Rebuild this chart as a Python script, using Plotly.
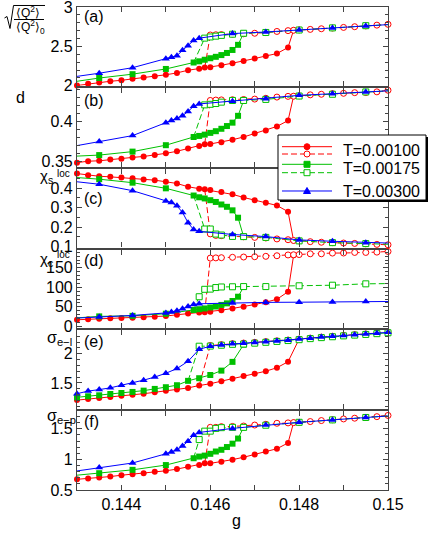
"""
Six stacked panels vs g for three temperatures (hysteresis branches).
"""
# Imports.
import plotly.graph_objects as go
from plotly.subplots import make_subplots

# Data.
temps = ['T=0.00100', 'T=0.00175', 'T=0.00300']

g_red = [0.143, 0.14325, 0.1435, 0.14375, 0.144, 0.14425, 0.1445, 0.14475, 0.145, 0.14525, 0.1455,
         0.14575, 0.145875, 0.146, 0.14625, 0.1465, 0.14675, 0.147, 0.14725, 0.1475, 0.14775, 0.147875]
g_red_dash = [0.145875, 0.146, 0.146125, 0.14625, 0.1465, 0.14675, 0.147, 0.14725, 0.1475, 0.14775,
              0.147875, 0.148, 0.14825, 0.1485, 0.14875, 0.149, 0.14925, 0.1495, 0.14975, 0.15]
g_green = [0.14275, 0.1435, 0.14425, 0.145, 0.145625, 0.14575, 0.145875, 0.146, 0.146125, 0.14625,
           0.146375, 0.1465, 0.146625, 0.14675]
g_green_dash = [0.145625, 0.145875, 0.146, 0.146125, 0.14625, 0.1465, 0.14675, 0.14725, 0.148, 0.14875,
                0.1495, 0.15025]
g_green_dash_df = [0.145625, 0.14575, 0.145875, 0.146, 0.146125, 0.14625, 0.1465, 0.14675, 0.14725, 0.148,
                   0.14875, 0.1495, 0.15025]
g_blue = [0.14275, 0.1435, 0.14425, 0.145, 0.145125, 0.14525, 0.145375, 0.1455, 0.145625, 0.14575,
          0.1465, 0.14725, 0.148, 0.14875, 0.1495, 0.15025]

# Panel (a).
a_red = [2.004, 2.025, 2.041, 2.058, 2.07, 2.09, 2.107, 2.123, 2.14, 2.164, 2.198, 2.218, 2.231, 2.237,
         2.261, 2.288, 2.315, 2.346, 2.379, 2.409, 2.487, 2.705]
a_red_dash = [2.231, 2.645, 2.648, 2.65, 2.655, 2.66, 2.667, 2.675, 2.69, 2.70, 2.705, 2.71, 2.716, 2.724,
              2.733, 2.741, 2.75, 2.76, 2.77, 2.78]
a_green = [2.037, 2.099, 2.148, 2.214, 2.296, 2.311, 2.331, 2.35, 2.368, 2.39, 2.417, 2.455, 2.52, 2.667]
a_green_dash = [2.296, 2.605, 2.62, 2.63, 2.64, 2.655, 2.667, 2.677, 2.708, 2.735, 2.763, 2.785]
a_blue = [2.10, 2.16, 2.23, 2.342, 2.362, 2.383, 2.45, 2.51, 2.575, 2.605, 2.663, 2.683, 2.707, 2.733,
          2.76, 2.785]

# Panel (b).
b_red = [0.349, 0.3508, 0.3513, 0.3529, 0.3538, 0.3555, 0.3567, 0.3584, 0.3606, 0.3631, 0.3665, 0.3698,
         0.372, 0.3722, 0.3745, 0.3775, 0.3809, 0.3851, 0.3889, 0.394, 0.4013, 0.4316]
b_red_dash = [0.372, 0.4263, 0.4268, 0.427, 0.4272, 0.4275, 0.428, 0.429, 0.4305, 0.4314, 0.4316, 0.432,
              0.4333, 0.434, 0.4348, 0.4352, 0.436, 0.4362, 0.437, 0.439]
b_green = [0.3565, 0.3584, 0.3627, 0.3707, 0.3809, 0.3822, 0.3838, 0.386, 0.3881, 0.3911, 0.3945, 0.3987,
           0.4072, 0.4263]
b_green_dash = [0.3809, 0.4208, 0.4215, 0.4225, 0.4242, 0.4263, 0.4263, 0.4276, 0.4318, 0.434, 0.4369, 0.439]
b_blue = [0.3677, 0.3754, 0.3826, 0.3987, 0.4013, 0.4038, 0.4072, 0.4127, 0.4191, 0.422, 0.4254, 0.4284,
          0.4327, 0.4347, 0.4369, 0.439]

# Panel (c).
c_red = [0.4747, 0.466, 0.461, 0.458, 0.4544, 0.451, 0.444, 0.441, 0.4325, 0.424, 0.407, 0.397, 0.394,
         0.39, 0.38, 0.368, 0.352, 0.338, 0.325, 0.311, 0.279, 0.131]
c_red_dash = [0.394, 0.165, 0.157, 0.156, 0.153, 0.15, 0.147, 0.144, 0.139, 0.135, 0.131, 0.129, 0.125,
              0.122, 0.12, 0.118, 0.116, 0.114, 0.111, 0.109]
c_green = [0.4586, 0.446, 0.428, 0.399, 0.362, 0.353, 0.347, 0.338, 0.329, 0.316, 0.304, 0.286, 0.248, 0.151]
c_green_dash = [0.362, 0.19, 0.19, 0.164, 0.159, 0.152, 0.151, 0.147, 0.129, 0.12, 0.115, 0.11]
c_blue = [0.439, 0.42, 0.387, 0.334, 0.326, 0.309, 0.275, 0.222, 0.187, 0.178, 0.162, 0.151, 0.134, 0.127,
          0.12, 0.116]

# Panel (d).
d_red = [17, 18, 19.7, 20.6, 21.4, 22.3, 23.1, 24.8, 26.5, 29.8, 33, 35.5, 36, 37.5, 41.5, 46, 50.5, 56,
         62, 69.5, 88.7, 182]
d_red_dash = [36, 175, 175.5, 176, 177, 177.7, 178.5, 179.5, 181, 183, 183.5, 184, 186, 186, 187.8, 188,
              189.5, 189.5, 190.3, 192]
d_green = [20, 25.6, 27, 32.5, 42, 44, 46, 48.5, 51, 55, 59, 65, 76, 101]
d_green_dash = [42, 76, 95, 95.5, 99.5, 101, 101.5, 102, 102, 104, 105.5, 109, 110]
d_blue = [20, 24, 28, 34.5, 37, 40, 45, 51, 56, 58, 60, 61.5, 62, 62.5, 63.5, 64]

# Panel (e), finer sampling.
g_e = [0.143, 0.14325, 0.1435, 0.14375, 0.144, 0.14425, 0.1445, 0.14475, 0.145, 0.14525, 0.1455, 0.14575,
       0.146, 0.14625, 0.1465, 0.14675, 0.147, 0.14725, 0.1475, 0.14775, 0.148, 0.14825, 0.1485, 0.14875,
       0.149, 0.14925, 0.1495, 0.14975, 0.15]
e_red = [1.205, 1.222, 1.24, 1.258, 1.28, 1.298, 1.315, 1.339, 1.365, 1.385, 1.414, 1.455, 1.485, 1.53,
         1.57, 1.616, 1.656, 1.70, 1.76, 1.862, 2.25]
e_red_dash = [1.455, 2.14, 2.155, 2.172, 2.182, 2.194, 2.207, 2.22, 2.234, 2.25, 2.267, 2.284, 2.298,
              2.313, 2.326, 2.338, 2.351, 2.366]
e_green = [1.253, 1.27, 1.287, 1.31, 1.327, 1.345, 1.367, 1.397, 1.426, 1.46, 1.535, 1.58, 1.635, 1.71,
           1.86, 2.155]
e_green_dash = [1.535, 2.128, 2.13, 2.145, 2.16, 2.165, 2.18, 2.195, 2.21, 2.225, 2.24, 2.258, 2.275,
                2.29, 2.305, 2.318, 2.33, 2.343, 2.358]
e_blue = [1.315, 1.36, 1.385, 1.415, 1.46, 1.50, 1.547, 1.60, 1.665, 1.745, 1.87, 2.076, 2.128, 2.15,
          2.17, 2.18, 2.192, 2.205, 2.218, 2.232, 2.25, 2.265, 2.284, 2.297, 2.313, 2.325, 2.336, 2.35, 2.365]

# Panel (f).
f_red = [0.675, 0.687, 0.703, 0.72, 0.742, 0.758, 0.775, 0.797, 0.814, 0.842, 0.88, 0.908, 0.936, 0.936,
         0.964, 0.997, 1.036, 1.08, 1.13, 1.175, 1.27, 1.603]
f_red_dash = [0.936, 1.525, 1.525, 1.537, 1.54, 1.547, 1.563, 1.575, 1.592, 1.598, 1.603, 1.608, 1.62,
              1.636, 1.65, 1.663, 1.675, 1.687, 1.70, 1.72]
f_green = [0.725, 0.775, 0.83, 0.908, 1.02, 1.047, 1.063, 1.092, 1.13, 1.158, 1.203, 1.258, 1.342, 1.525]
f_green_dash = [1.02, 1.325, 1.463, 1.463, 1.508, 1.52, 1.525, 1.525, 1.56, 1.608, 1.647, 1.687, 1.725]
f_blue = [0.786, 0.87, 0.942, 1.092, 1.12, 1.158, 1.22, 1.297, 1.397, 1.442, 1.508, 1.563, 1.608, 1.647,
          1.687, 1.725]

# Axis settings per panel.
y_ranges = [[2.0, 3.0], [0.344, 0.442], [0.095, 0.5], [-5, 197], [1.05, 2.40], [0.5, 1.79]]
y_ticks = [[2, 2.5, 3], [0.35, 0.4], [0.1, 0.2, 0.3, 0.4], [0, 50, 100, 150], [1.5, 2], [0.5, 1, 1.5]]
y_minor = [0.1, 0.01, 0.05, 10, 0.1, 0.1]
x_ticks = [0.143, 0.144, 0.145, 0.146, 0.147, 0.148, 0.149, 0.15]
x_labels = ['', '0.144', '', '0.146', '', '0.148', '', '0.15']

RED, GREEN, BLUE = '#ff0000', '#00c000', '#0000ff'
FONT = 'Liberation Sans, Arial, sans-serif'
W, H = 436, 536
ML, MR, MT, MB = 77, 48, 7, 46


def px(x, y):
    """Pixel position -> paper coordinates."""
    return (x - ML) / (W - ML - MR), (H - MB - y) / (H - MT - MB)


def add_series(fig, row, g, vals, color, symbol, size, dashed=False, hide_first=False):
    """Add one branch as a line with markers."""
    n = len(vals)
    g = g[:n]
    opac = [1 if 0.143 - 1e-9 <= x <= 0.15 + 1e-9 else 0 for x in g]
    if hide_first:
        opac[0] = 0
    if dashed:
        marker = dict(symbol=symbol, size=size, color='white', opacity=opac, line=dict(color=color, width=1))
    else:
        marker = dict(symbol=symbol, size=size, color=color, opacity=opac, line=dict(width=0))
    fig.add_trace(go.Scatter(x=g, y=vals, mode='lines+markers', cliponaxis=False, showlegend=False,
                             line=dict(color=color, width=1, dash='6px,3px' if dashed else 'solid'),
                             marker=marker), row=row, col=1)


# Create figure.
fig = make_subplots(rows=6, cols=1, shared_xaxes=True, vertical_spacing=2 / 483)

panels = [(a_red, a_red_dash, a_green, a_green_dash, a_blue),
          (b_red, b_red_dash, b_green, b_green_dash, b_blue),
          (c_red, c_red_dash, c_green, c_green_dash, c_blue),
          (d_red, d_red_dash, d_green, d_green_dash, d_blue)]
for i, (r, rd, gr, gd, bl) in enumerate(panels):
    add_series(fig, i + 1, g_red, r, RED, 'circle', 6)
    add_series(fig, i + 1, g_red_dash, rd, RED, 'circle', 6, dashed=True, hide_first=True)
    add_series(fig, i + 1, g_green, gr, GREEN, 'square', 6)
    add_series(fig, i + 1, g_green_dash_df if i == 3 else g_green_dash, gd, GREEN, 'square', 6,
               dashed=True, hide_first=True)
    add_series(fig, i + 1, g_blue, bl, BLUE, 'triangle-up', 7)

# Panel (e).
add_series(fig, 5, g_e, e_red, RED, 'circle', 6)
add_series(fig, 5, g_e[11:], e_red_dash, RED, 'circle', 6, dashed=True, hide_first=True)
add_series(fig, 5, g_e, e_green, GREEN, 'square', 6)
add_series(fig, 5, g_e[10:], e_green_dash, GREEN, 'square', 6, dashed=True, hide_first=True)
add_series(fig, 5, g_e, e_blue, BLUE, 'triangle-up', 7)

# Panel (f).
add_series(fig, 6, g_red, f_red, RED, 'circle', 6)
add_series(fig, 6, g_red_dash, f_red_dash, RED, 'circle', 6, dashed=True, hide_first=True)
add_series(fig, 6, g_green, f_green, GREEN, 'square', 6)
add_series(fig, 6, g_green_dash_df, f_green_dash, GREEN, 'square', 6, dashed=True, hide_first=True)
add_series(fig, 6, g_blue, f_blue, BLUE, 'triangle-up', 7)

# Axes.
axis_common = dict(showline=True, linecolor='#444', linewidth=1.2, mirror='ticks', ticks='inside',
                   tickcolor='#444', showgrid=False, zeroline=False, automargin=False,
                   ticklabeloverflow='allow', tickfont=dict(family=FONT, size=16, color='black'))
for i in range(6):
    fig.update_xaxes(range=[0.143, 0.15], tickvals=x_ticks, ticktext=x_labels, ticklen=5,
                     showticklabels=(i == 5), row=i + 1, col=1, **axis_common)
    fig.update_yaxes(range=y_ranges[i], tickvals=y_ticks[i], ticklen=5,
                     minor=dict(dtick=y_minor[i], tick0=0, ticklen=3, ticks='inside', tickcolor='#444'),
                     row=i + 1, col=1, **axis_common)

# Labels.
ann = []


def label(text, x, y, size=16, xanchor='center'):
    ax, ay = px(x, y)
    ann.append(dict(text=text, x=ax, y=ay, xref='paper', yref='paper', showarrow=False, xanchor=xanchor,
                    yanchor='middle', font=dict(family=FONT, size=size, color='black')))


for txt, yy in zip(['(a)', '(b)', '(c)', '(d)', '(e)', '(f)'], [16, 101, 198, 260, 341, 421]):
    label(txt, 82, yy, xanchor='left')
label('d', 20, 98)
label('\u03c7<sub>s</sub>', 55, 177, size=15, xanchor='right')
label('loc', 55, 173, size=10, xanchor='left')
label('\u03c7<sub>c</sub>', 55, 259, size=15, xanchor='right')
label('loc', 55, 255, size=10, xanchor='left')
label('\u03c3<sub>e\u2212l</sub>', 45, 338, xanchor='left')
label('\u03c3<sub>e\u2212p</sub>', 45, 416, xanchor='left')
label('g', 236, 520)
label('\u27e8Q<sup>2</sup>\u27e9', 28, 12, size=12)
label('\u27e8Q<sup>2</sup>\u27e9<sub>0</sub>', 30, 27, size=12)

shapes = []


def path(points, **kw):
    pts = [px(x, y) for x, y in points]
    d = 'M ' + ' L '.join('{:.5f},{:.5f}'.format(a, b) for a, b in pts)
    shapes.append(dict(type='path', path=d, xref='paper', yref='paper', layer='above', **kw))


def rect(x0, y0, x1, y1, **kw):
    a0, b0 = px(x0, y0)
    a1, b1 = px(x1, y1)
    shapes.append(dict(type='rect', x0=a0, y0=b0, x1=a1, y1=b1, xref='paper', yref='paper', layer='above', **kw))


# Square root and fraction bar.
path([(4.5, 18), (7, 16.5), (10, 28.5), (13.5, 5.5), (45, 5.5)], line=dict(color='black', width=1))
path([(14, 19.5), (44, 19.5)], line=dict(color='black', width=1))

# Legend box with shadow.
rect(280, 137, 428, 202, fillcolor='black', line=dict(width=0))
rect(278, 135, 426, 200, fillcolor='white', line=dict(color='black', width=1))
rows = [(146.7, RED, False, 'circle'), (154, RED, True, 'circle'), (164.3, GREEN, False, 'square'),
        (172.7, GREEN, True, 'square'), (191, BLUE, False, 'triangle')]
for yy, col, dashed, sym in rows:
    path([(282, yy), (332, yy)], line=dict(color=col, width=1, dash='6px,3px' if dashed else 'solid'))
    fill = 'white' if dashed else col
    if sym == 'circle':
        a0, b0 = px(304, yy - 3)
        a1, b1 = px(310, yy + 3)
        shapes.append(dict(type='circle', x0=a0, y0=b0, x1=a1, y1=b1, xref='paper', yref='paper',
                           layer='above', fillcolor=fill, line=dict(color=col, width=1)))
    elif sym == 'square':
        rect(304, yy - 3, 310, yy + 3, fillcolor=fill, line=dict(color=col, width=1))
    else:
        path([(303.5, yy + 2.5), (310.5, yy + 2.5), (307, yy - 3.5), (303.5, yy + 2.5)], fillcolor=col,
             line=dict(color=col, width=1))
label(temps[0], 341, 150.5, xanchor='left')
label(temps[1], 341, 168.5, xanchor='left')
label(temps[2], 341, 191, xanchor='left')

fig.update_layout(width=W, height=H, margin=dict(l=ML, r=MR, t=MT, b=MB, autoexpand=False),
                  plot_bgcolor='white', paper_bgcolor='white', showlegend=False, annotations=ann,
                  shapes=shapes, font=dict(family=FONT, size=16, color='black'))

# Page without the default body margin so the figure sits at the window origin.
fig.write_html('out.html', config={'displayModeBar': False},
               post_script="document.body.style.margin = '0px';")
